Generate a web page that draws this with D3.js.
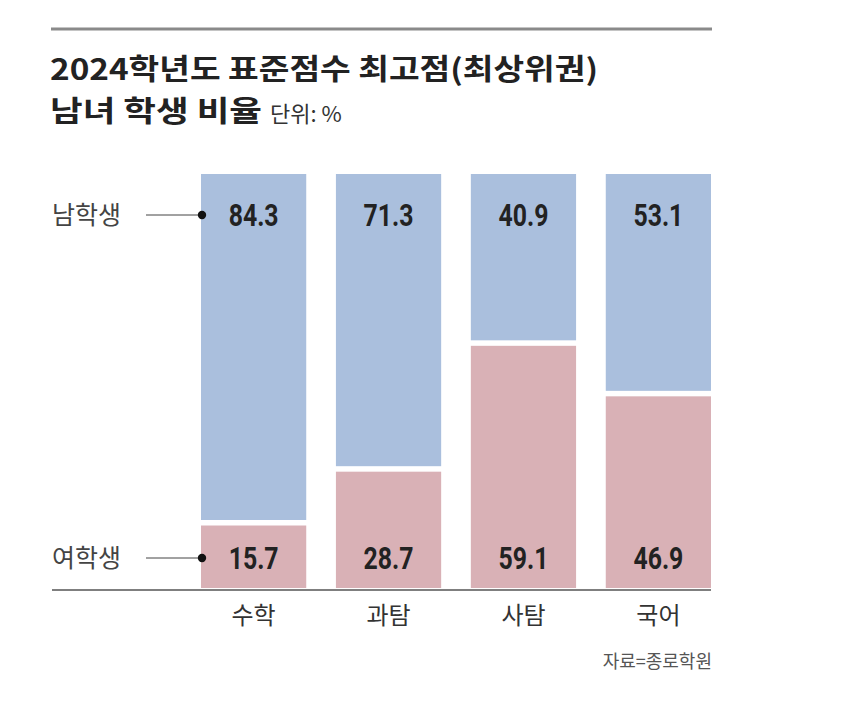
<!DOCTYPE html>
<html>
<head>
<meta charset="utf-8">
<script src="https://cdn.jsdelivr.net/npm/d3@7"></script>
<style>
  body { margin: 0; background: #fff; }
  svg text { font-family: "Noto Sans CJK KR", sans-serif; }
</style>
</head>
<body>
<div id="chart"></div>
<script>
// data
const subjects = ["수학", "과탐", "사탐", "국어"];
const maleShare = [84.3, 71.3, 40.9, 53.1];
const femaleShare = [15.7, 28.7, 59.1, 46.9];
const seriesNames = ["남학생", "여학생"];

const w = 850, h = 711;

const svg = d3.select("#chart").append("svg")
  .attr("width", w)
  .attr("height", h);

// top rule
svg.append("line")
  .attr("x1", 51).attr("x2", 712)
  .attr("y1", 29).attr("y2", 29)
  .attr("stroke", "#8a8a8a")
  .attr("stroke-width", 3);

// title
svg.append("text")
  .attr("x", 50).attr("y", 80)
  .attr("font-size", 29).attr("font-weight", 700)
  .attr("fill", "#222")
  .attr("textLength", 548).attr("lengthAdjust", "spacingAndGlyphs")
  .text("2024학년도 표준점수 최고점(최상위권)");

svg.append("text")
  .attr("x", 50).attr("y", 122)
  .attr("font-size", 29).attr("font-weight", 700)
  .attr("fill", "#222")
  .attr("textLength", 212).attr("lengthAdjust", "spacingAndGlyphs")
  .text("남녀 학생 비율");

svg.append("text")
  .attr("x", 270).attr("y", 122)
  .attr("font-size", 22)
  .attr("fill", "#333")
  .text("단위: %");

// scales
const x = d3.scaleBand()
  .domain(subjects)
  .range([201, 711])
  .paddingInner(0.22)
  .paddingOuter(0);

const y = d3.scaleLinear()
  .domain([0, 100])
  .range([588, 174]);

const rows = subjects.map((s, i) => ({ s: s, m: maleShare[i], f: femaleShare[i] }));

// male (top) segments
svg.selectAll(".male")
  .data(rows)
  .enter().append("rect")
  .attr("class", "male")
  .attr("x", d => x(d.s))
  .attr("width", x.bandwidth())
  .attr("y", y(100))
  .attr("height", d => y(d.f) - 3 - y(100))
  .attr("fill", "#aabfdd");

// female (bottom) segments
svg.selectAll(".female")
  .data(rows)
  .enter().append("rect")
  .attr("class", "female")
  .attr("x", d => x(d.s))
  .attr("width", x.bandwidth())
  .attr("y", d => y(d.f) + 2.5)
  .attr("height", d => y(0) - y(d.f) - 2.5)
  .attr("fill", "#d9b1b6");

// value labels (condensed look via horizontal squeeze)
const labelY = [215, 558];
function valueLabels(cls, key, yy) {
  svg.selectAll("." + cls)
    .data(rows)
    .enter().append("text")
    .attr("class", cls)
    .attr("transform", d => "translate(" + (x(d.s) + x.bandwidth() / 2) + "," + yy + ") scale(0.8,1)")
    .attr("dy", "0.36em")
    .attr("text-anchor", "middle")
    .attr("font-size", 31).attr("font-weight", 700)
    .style("font-family", "Roboto, sans-serif")
    .attr("fill", "#222")
    .text(d => d[key].toFixed(1));
}
valueLabels("mval", "m", labelY[0]);
valueLabels("fval", "f", labelY[1]);

// series labels with leader lines
seriesNames.forEach((name, i) => {
  svg.append("text")
    .attr("x", 52).attr("y", labelY[i])
    .attr("dy", "0.35em")
    .attr("font-size", 25)
    .attr("fill", "#444")
    .text(name);
  svg.append("line")
    .attr("x1", 146).attr("x2", 201)
    .attr("y1", labelY[i]).attr("y2", labelY[i])
    .attr("stroke", "#444").attr("stroke-width", 1);
  svg.append("circle")
    .attr("cx", 202).attr("cy", labelY[i])
    .attr("r", 4.2)
    .attr("fill", "#111");
});

// baseline
svg.append("line")
  .attr("x1", 52).attr("x2", 711)
  .attr("y1", 590).attr("y2", 590)
  .attr("stroke", "#555").attr("stroke-width", 1.5);

// category labels
const xAxis = d3.axisBottom(x).tickSize(0).tickPadding(0);
const gx = svg.append("g")
  .attr("transform", "translate(0,590)")
  .call(xAxis);
gx.select(".domain").remove();
gx.selectAll("text")
  .attr("y", 26)
  .attr("dy", "0.35em")
  .attr("font-size", 24)
  .attr("font-family", "Noto Sans CJK KR, sans-serif")
  .attr("fill", "#333");

// source
svg.append("text")
  .attr("x", 712).attr("y", 662)
  .attr("dy", "0.35em")
  .attr("text-anchor", "end")
  .attr("font-size", 18)
  .attr("fill", "#555")
  .text("자료=종로학원");
</script>
</body>
</html>
